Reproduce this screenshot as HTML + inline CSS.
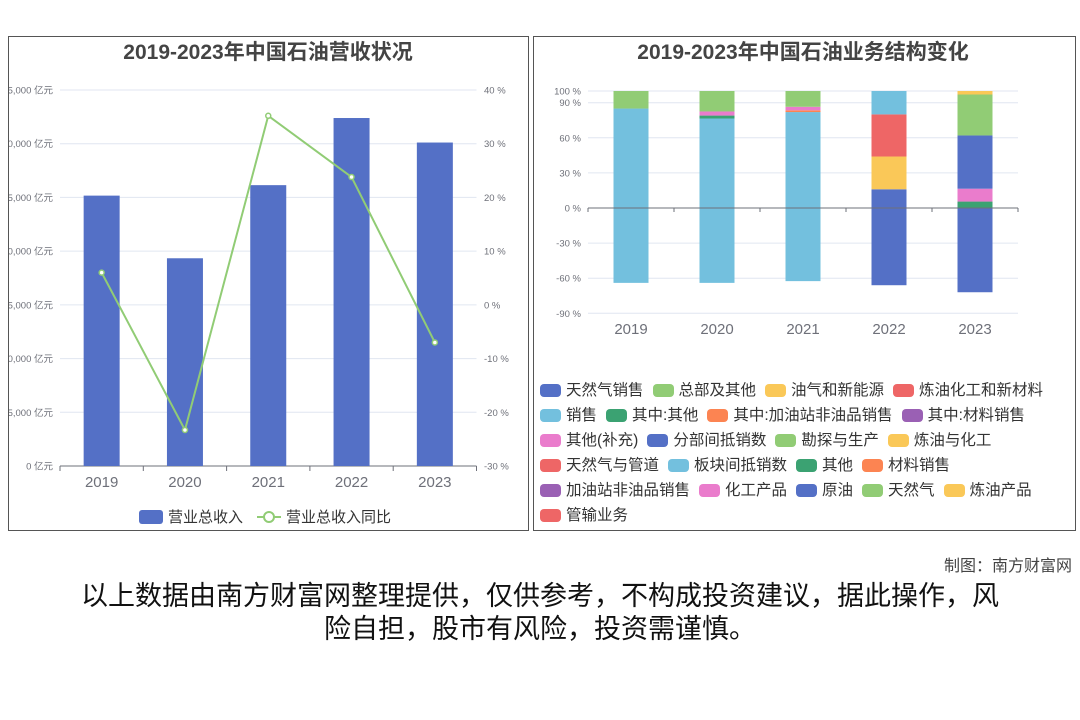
<!DOCTYPE html>
<html><head><meta charset="utf-8">
<style>
body{margin:0;width:1080px;height:720px;background:#fff;font-family:"Liberation Sans","Noto Sans CJK SC",sans-serif;position:relative;overflow:hidden}
.panel{position:absolute;border:1px solid #555;box-sizing:border-box}
#legR{position:absolute;left:540px;top:378px;width:535px;display:flex;flex-wrap:wrap;font-size:15.5px;color:#333;line-height:25px}
#legR .it{display:flex;align-items:center;margin-right:9px}
#legR .ic{width:21px;height:13px;border-radius:4px;margin-right:5px}
</style></head><body>
<div class="panel" style="left:8px;top:36px;width:521px;height:495px"></div>
<div class="panel" style="left:533px;top:36px;width:543px;height:495px"></div>
<svg id="c1" width="530" height="535" style="position:absolute;left:0;top:0;clip-path:inset(0 0 0 9px)"></svg>
<svg id="c2" width="1080" height="370" style="position:absolute;left:0;top:0"></svg>
<div id="legR"></div>
<div style="position:absolute;right:8px;top:552px;font-size:16px;color:#444">制图：南方财富网</div>
<div style="position:absolute;left:40px;width:1000px;top:580px;font-size:27px;line-height:33px;color:#111;text-align:center">以上数据由南方财富网整理提供，仅供参考，不构成投资建议，据此操作，风<br>险自担，股市有风险，投资需谨慎。</div>
<script>
const years=['2019','2020','2021','2022','2023'];
const revenue=[25168,19337,26143,32392,30110];
const growth=[6,-23.3,35.2,23.8,-7];
const revTicks=[0,5000,10000,15000,20000,25000,30000,35000];
const pctTicks=[-30,-20,-10,0,10,20,30,40];

const segNames=['销售','其中:其他','其中:加油站非油品销售','其他(补充)','总部及其他','其他','化工产品','原油','天然气','炼油产品','管输业务','板块间抵销数','分部间抵销数'];
const segColors=['#73c0de','#3ba272','#fc8452','#ea7ccc','#91cc75','#3ba272','#ea7ccc','#5470c6','#91cc75','#fac858','#ee6666','#73c0de','#5470c6'];
const segValues=[
 [85,76.5,82,0,0],
 [0,2.5,0,0,0],
 [0,0,1.5,0,0],
 [0,3.5,3,0,0],
 [15,17.5,13.5,0,0],
 [0,0,0,0,5.5],
 [0,0,0,0,11],
 [0,0,0,16,45.5],
 [0,0,0,0,35],
 [0,0,0,28,3],
 [0,0,0,36,0],
 [-64,-64,-62.5,20,0],
 [0,0,0,-66,-72]
];
const structTicks=[-90,-60,-30,0,30,60,90,100];
const legNames=['天然气销售','总部及其他','油气和新能源','炼油化工和新材料','销售','其中:其他','其中:加油站非油品销售','其中:材料销售','其他(补充)','分部间抵销数','勘探与生产','炼油与化工','天然气与管道','板块间抵销数','其他','材料销售','加油站非油品销售','化工产品','原油','天然气','炼油产品','管输业务'];
const palette=['#5470c6','#91cc75','#fac858','#ee6666','#73c0de','#3ba272','#fc8452','#9a60b4','#ea7ccc'];

const NS='http://www.w3.org/2000/svg';
function mk(svg,tag,attrs,txt){const e=document.createElementNS(NS,tag);for(const k in attrs)e.setAttribute(k,attrs[k]);if(txt!==undefined)e.textContent=txt;svg.appendChild(e);return e;}

// Chart 1
const s1=document.getElementById('c1');
const X0=60,X1=476.5,Y0=466,Y1=90;
const yL=v=>Y0-(v/35000)*(Y0-Y1);
const yR=v=>Y0-((v+30)/70)*(Y0-Y1);
const bw=(X1-X0)/years.length;
const xc=i=>X0+bw*(i+0.5);
let t=mk(s1,'text',{x:268,y:59,'text-anchor':'middle','font-size':21,'font-weight':'bold',fill:'#444'},'2019-2023年中国石油营收状况');

revTicks.forEach(v=>{
 const y=yL(v);
 if(v>0){const l=mk(s1,'line',{x1:X0,x2:X1,y1:y,y2:y,stroke:'#e0e6f1'});}
 const lab=mk(s1,'text',{x:53,y:y+3.5,'text-anchor':'end','font-size':9.5,fill:'#6e7079'},v.toLocaleString('en-US')+' 亿元');
 
});
pctTicks.forEach(v=>{
 const lab=mk(s1,'text',{x:484,y:yR(v)+3.5,'font-size':9.5,fill:'#6e7079'},v+' %');
 
});
mk(s1,'line',{x1:X0,x2:X1,y1:Y0,y2:Y0,stroke:'#6e7079'});
for(let i=0;i<=years.length;i++)mk(s1,'line',{x1:X0+bw*i,x2:X0+bw*i,y1:Y0,y2:Y0+5,stroke:'#6e7079'});
years.forEach((yr,i)=>{
 const r=mk(s1,'rect',{x:xc(i)-18,y:yL(revenue[i]),width:36,height:Y0-yL(revenue[i]),fill:'#5470c6'});
 
 const l=mk(s1,'text',{x:xc(i),y:487,'text-anchor':'middle','font-size':15,fill:'#6e7079'},yr);
 
});
const pl=mk(s1,'polyline',{points:growth.map((g,i)=>xc(i)+','+yR(g)).join(' '),fill:'none',stroke:'#91cc75','stroke-width':2});

growth.forEach((g,i)=>{const c=mk(s1,'circle',{cx:xc(i),cy:yR(g),r:2.5,fill:'#fff',stroke:'#91cc75','stroke-width':1.5});});
let lr=mk(s1,'rect',{x:139,y:510,width:24,height:14,rx:3,fill:'#5470c6'});
let lt=mk(s1,'text',{x:168,y:522,'font-size':15,fill:'#333'},'营业总收入');
mk(s1,'line',{x1:257,x2:281,y1:517,y2:517,stroke:'#91cc75','stroke-width':2});
mk(s1,'circle',{cx:269,cy:517,r:5,fill:'#fff',stroke:'#91cc75','stroke-width':2});
lt=mk(s1,'text',{x:286,y:522,'font-size':15,fill:'#333'},'营业总收入同比');

// Chart 2
const s2=document.getElementById('c2');
const A0=588,A1=1018,Z=208,K=117/100;
const y2=v=>Z-v*K;
const cw=(A1-A0)/years.length;
const xc2=i=>A0+cw*(i+0.5);
t=mk(s2,'text',{x:803,y:59,'text-anchor':'middle','font-size':21,'font-weight':'bold',fill:'#444'},'2019-2023年中国石油业务结构变化');

structTicks.forEach(v=>{
 const y=y2(v);
 if(v!==0)mk(s2,'line',{x1:A0,x2:A1,y1:y,y2:y,stroke:'#e0e6f1'});
 const lab=mk(s2,'text',{x:581,y:y+3.5,'text-anchor':'end','font-size':9.5,fill:'#6e7079'},v+' %');
 
});
const pos=[0,0,0,0,0],neg=[0,0,0,0,0];
segValues.forEach((vals,s)=>{
 vals.forEach((v,i)=>{
  if(!v)return;
  let top,bot;
  if(v>0){bot=pos[i];top=pos[i]+v;pos[i]=top;}else{top=neg[i];bot=neg[i]+v;neg[i]=bot;}
  const r=mk(s2,'rect',{x:xc2(i)-17.5,y:y2(top),width:35,height:(top-bot)*K,fill:segColors[s]});
  
  
 });
});
mk(s2,'line',{x1:A0,x2:A1,y1:Z,y2:Z,stroke:'#6e7079'});
for(let i=0;i<=years.length;i++)mk(s2,'line',{x1:A0+cw*i,x2:A0+cw*i,y1:Z,y2:Z+4,stroke:'#6e7079'});
years.forEach((yr,i)=>{const l=mk(s2,'text',{x:xc2(i),y:334,'text-anchor':'middle','font-size':15,fill:'#6e7079'},yr);});

const leg=document.getElementById('legR');
legNames.forEach((n,i)=>{
 const it=document.createElement('div');it.className='it';
 
 
 it.innerHTML='<span class="ic" style="background:'+palette[i%9]+'"></span>'+n;
 leg.appendChild(it);
});
</script>
</body></html>
